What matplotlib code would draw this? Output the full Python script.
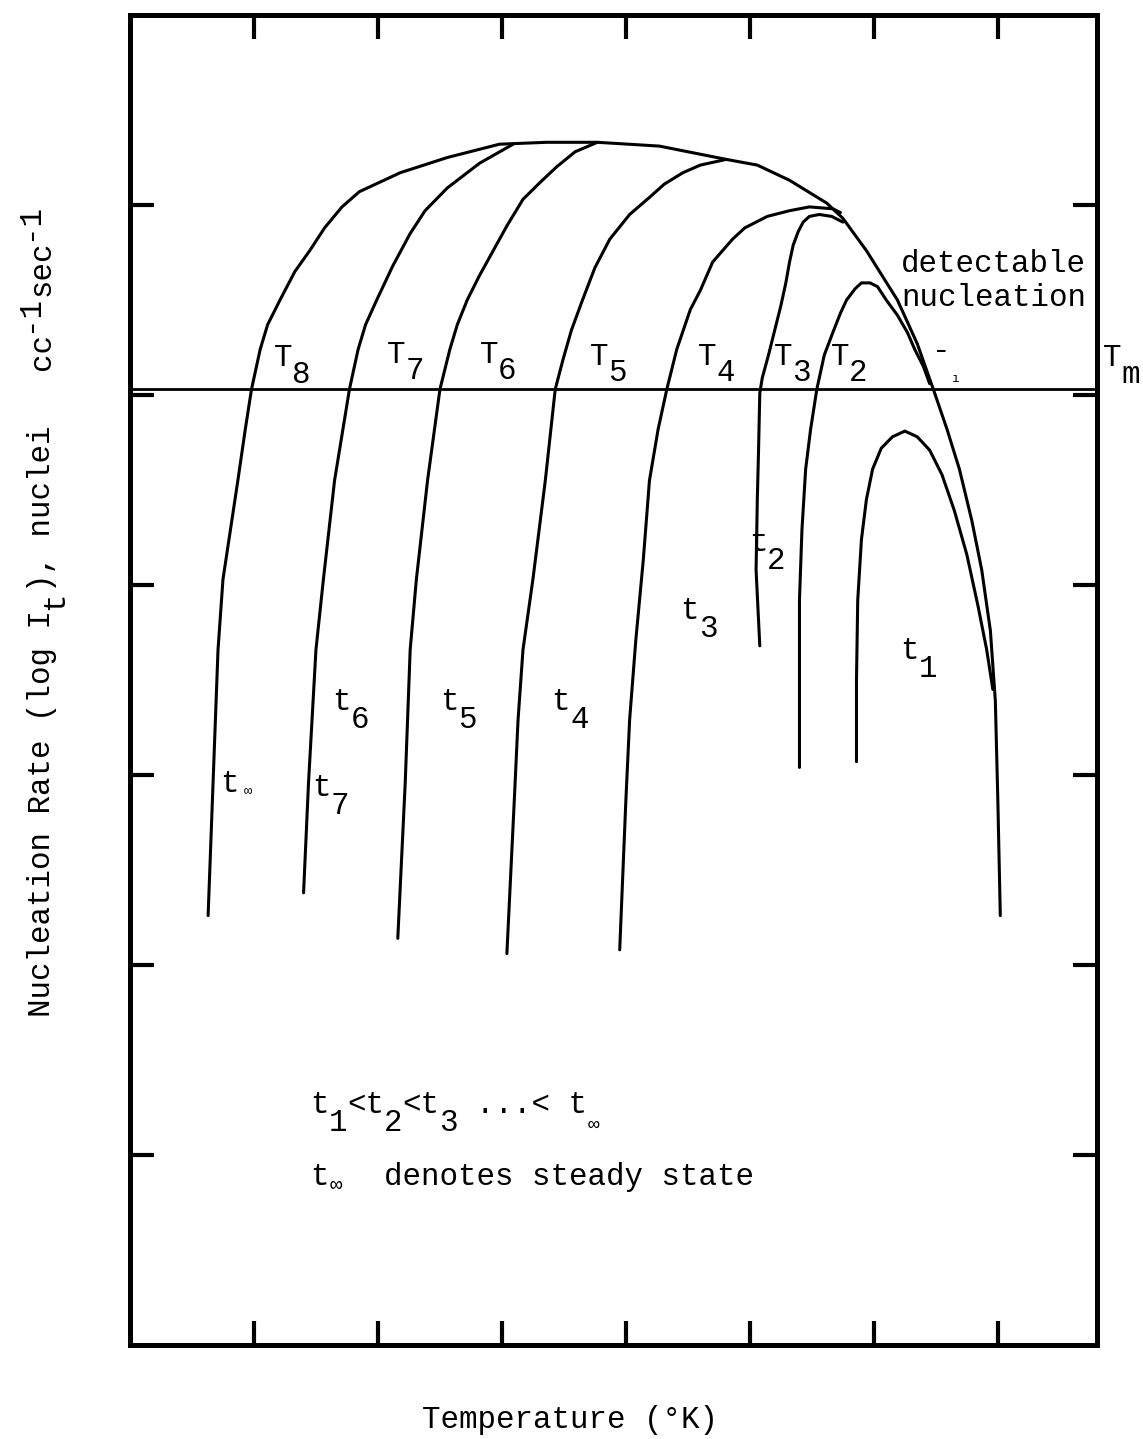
import matplotlib
matplotlib.use("Agg")
import matplotlib.pyplot as plt

plt.rcParams['font.family'] = ['Liberation Mono', 'DejaVu Sans Mono']

# readings in tick units: temperature (x) and log nucleation rate (y)
env_T = [0.63, 0.67, 0.71, 0.75, 0.81, 0.87, 0.93, 0.98, 1.05, 1.11, 1.21, 1.33, 1.45,
         1.57, 1.71, 1.85, 2.18, 2.56, 2.98, 3.36, 3.77, 4.27, 4.81, 5.06, 5.32, 5.62,
         5.75, 5.94, 6.19, 6.35, 6.48, 6.59, 6.69, 6.79, 6.87, 6.94, 6.98, 7.00, 7.02]
env_I = [2.26, 2.96, 3.66, 4.03, 4.29, 4.55, 4.82, 5.03, 5.24, 5.37, 5.50, 5.65, 5.76,
         5.88, 5.99, 6.07, 6.17, 6.25, 6.32, 6.33, 6.33, 6.31, 6.24, 6.21, 6.13, 6.01,
         5.93, 5.76, 5.50, 5.27, 5.03, 4.82, 4.61, 4.34, 4.08, 3.76, 3.39, 2.87, 2.26]

t7_T = [3.09, 2.82, 2.56, 2.38, 2.26, 2.12, 1.99, 1.90, 1.84, 1.77, 1.65, 1.56, 1.50, 1.47, 1.44, 1.40]
t7_I = [6.32, 6.22, 6.09, 5.97, 5.85, 5.68, 5.50, 5.37, 5.24, 5.03, 4.55, 4.03, 3.66, 3.31, 2.96, 2.38]

t6_T = [3.77, 3.59, 3.44, 3.31, 3.17, 3.04, 2.93, 2.82, 2.72, 2.64, 2.58, 2.50, 2.40, 2.31, 2.26, 2.22, 2.16]
t6_I = [6.33, 6.28, 6.20, 6.12, 6.03, 5.89, 5.76, 5.63, 5.50, 5.37, 5.24, 5.03, 4.55, 4.03, 3.66, 2.96, 2.14]

t5_T = [4.81, 4.60, 4.46, 4.31, 4.19, 4.03, 3.87, 3.75, 3.65, 3.56, 3.49, 3.43, 3.35, 3.25, 3.17, 3.13, 3.10, 3.04]
t5_I = [6.24, 6.21, 6.17, 6.11, 6.04, 5.95, 5.82, 5.67, 5.50, 5.34, 5.18, 5.03, 4.55, 4.03, 3.66, 3.29, 2.87, 2.06]

t4_T = [5.73, 5.67, 5.48, 5.32, 5.14, 4.96, 4.86, 4.70, 4.60, 4.52, 4.41, 4.33, 4.26, 4.19, 4.14, 4.08, 4.03, 4.00, 3.95]
t4_I = [5.96, 5.98, 5.99, 5.97, 5.94, 5.88, 5.82, 5.70, 5.55, 5.45, 5.24, 5.03, 4.82, 4.55, 4.13, 3.71, 3.29, 2.87, 2.08]

t3_T = [5.75, 5.66, 5.56, 5.48, 5.43, 5.39, 5.35, 5.32, 5.29, 5.25, 5.20, 5.15, 5.10, 5.08,
        5.07, 5.06, 5.05, 5.08]
t3_I = [5.91, 5.94, 5.95, 5.94, 5.91, 5.86, 5.79, 5.70, 5.59, 5.47, 5.34, 5.21, 5.09, 5.01,
        4.71, 4.45, 4.08, 3.68]

t2_T = [6.45, 6.40, 6.33, 6.27, 6.19, 6.10, 6.03, 5.97, 5.90, 5.85, 5.78, 5.73, 5.67, 5.60,
        5.54, 5.49, 5.45, 5.42, 5.40, 5.40, 5.40]
t2_I = [5.06, 5.15, 5.24, 5.33, 5.42, 5.50, 5.57, 5.59, 5.59, 5.56, 5.50, 5.43, 5.33, 5.21,
        5.03, 4.82, 4.61, 4.29, 3.92, 3.50, 3.04]

t1_T = [5.86, 5.86, 5.87, 5.90, 5.94, 5.99, 6.06, 6.15, 6.25, 6.35, 6.45, 6.55, 6.65, 6.75, 6.84, 6.91, 6.96]
t1_I = [3.07, 3.50, 3.92, 4.24, 4.45, 4.61, 4.72, 4.78, 4.81, 4.78, 4.71, 4.58, 4.39, 4.16, 3.89, 3.66, 3.45]

Tm_level = 5.03

# isotherm labels T8..T2 sitting just above the Tm line
T_names = ['8', '7', '6', '5', '4', '3', '2']
T_x = [1.16, 2.07, 2.82, 3.71, 4.58, 5.19, 5.65]
T_y = [5.15, 5.17, 5.17, 5.16, 5.16, 5.16, 5.16]

# time labels on the curves
t_names = ['6', '5', '4', '7', '3', '2', '1']
t_x = [1.63, 2.50, 3.40, 1.47, 4.44, 4.99, 6.21]
t_y = [3.34, 3.34, 3.34, 2.89, 3.82, 4.18, 3.61]

FS = 22.2
ADV = 0.6 * FS          # monospace advance, points
ADV_PX = ADV * 100 / 72
BLACK = 'black'

fig = plt.figure(figsize=(11.43, 14.39), dpi=100)
ax = fig.add_axes([130 / 1143, 94 / 1439, 967 / 1143, 1330 / 1439])
ax.set_xlim(0, 7.80)
ax.set_ylim(0, 7.0)

curve_kw = dict(color=BLACK, lw=2.2, solid_capstyle='round', solid_joinstyle='round')
for xs, ys in [(env_T, env_I), (t7_T, t7_I), (t6_T, t6_I), (t5_T, t5_I),
               (t4_T, t4_I), (t3_T, t3_I), (t2_T, t2_I), (t1_T, t1_I)]:
    ax.plot(xs, ys, **curve_kw)

ax.axhline(Tm_level, color=BLACK, lw=2.0)

ax.set_xticks(range(1, 8))
ax.set_yticks(range(1, 7))
ax.tick_params(direction='in', length=17, width=3, top=True, right=True,
               labelbottom=False, labelleft=False, color=BLACK)
for sp in ax.spines.values():
    sp.set_linewidth(3.6)
    sp.set_color(BLACK)


def typed(x, y, pieces, size=FS):
    # pieces: (column, text, vertical offset in points[, font size])
    for p in pieces:
        col, s, dy = p[:3]
        fs = p[3] if len(p) > 3 else size
        ax.annotate(s, (x, y), xytext=(col * ADV, dy), textcoords='offset points',
                    fontsize=fs, ha='left', va='baseline', color=BLACK,
                    annotation_clip=False)


for name, x, y in zip(T_names, T_x, T_y):
    typed(x, y, [(0, 'T', 0), (1, name, -12)])
for name, x, y in zip(t_names, t_x, t_y):
    typed(x, y, [(0, 't', 0), (1, name, -13)])

# steady state label (left curve) with smudged infinity
typed(0.73, 2.91, [(0, 't', 0), (1.25, '\u221e', -2, 10)])

# T1 label, mostly lost in the original print
typed(6.47, 5.19, [(0, '-', 0)])
typed(6.62, 5.07, [(0, '\u0131', 0, 9)])

# Tm label outside the frame
typed(7.85, 5.15, [(0, 'T', 0), (1, 'm', -12)])

ax.text(6.22, 5.65, 'detectable', fontsize=FS, ha='left', va='baseline', color=BLACK)
ax.text(6.22, 5.47, 'nucleation', fontsize=FS, ha='left', va='baseline', color=BLACK)

# note lines
typed(1.45, 1.22, [(0, 't', 0), (1, '1', -13), (2, '<t', 0), (4, '2', -13),
                   (5, '<t', 0), (7, '3', -13), (9, '...< t', 0), (15, '\u221e', -12, 14)])
typed(1.45, 0.84, [(0, 't', 0), (1.05, '\u221e', -4, 15), (4, 'denotes steady state', 0)])

# axis titles
fig.text(570 / 1143, (1439 - 1428) / 1439, 'Temperature (\u00b0K)', fontsize=FS,
         ha='center', va='baseline', color=BLACK)

ylab_px = 1017
rot = dict(fontsize=FS, rotation=90, rotation_mode='anchor', ha='left', va='baseline', color=BLACK)
ylab_parts = [(0, 'Nucleation Rate (log I', 50), (22, 't', 63), (23, '), nuclei', 50),
              (35, 'cc', 50), (37, '-1', 37), (39, 'sec', 50), (42, '-1', 37)]
for col, s, xpx in ylab_parts:
    fig.text(xpx / 1143, (1439 - ylab_px + col * ADV_PX) / 1439, s, **rot)

fig.savefig('out.png', dpi=100)
